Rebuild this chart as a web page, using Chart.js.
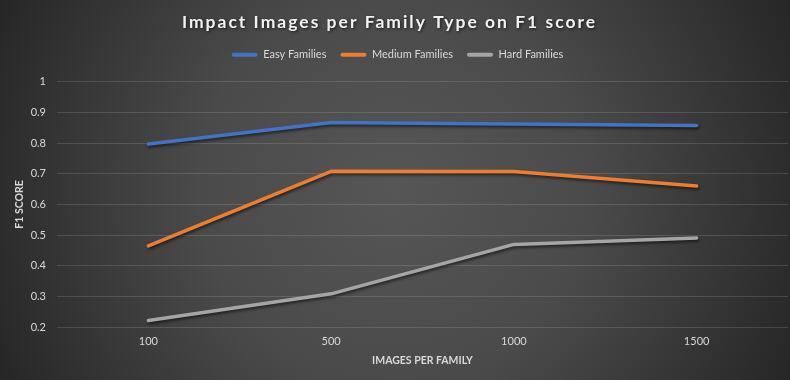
<!DOCTYPE html>
<html>
<head>
<meta charset="utf-8">
<script src="https://cdn.jsdelivr.net/npm/chart.js@4"></script>
<style>
  html, body { margin: 0; padding: 0; background: #3a3a3a; }
  #wrap { width: 790px; height: 380px; position: relative; }
</style>
</head>
<body>
<div id="wrap"><canvas id="c" width="790" height="380"></canvas></div>
<script>
// ---- data ----
const categories = ['100', '500', '1000', '1500'];
const seriesNames = ['Easy Families', 'Medium Families', 'Hard Families'];
const easyFamilies = [0.797, 0.867, 0.862, 0.857];
const mediumFamilies = [0.465, 0.708, 0.707, 0.660];
const hardFamilies = [0.222, 0.309, 0.470, 0.491];
const yTicks = [0.2, 0.3, 0.4, 0.5, 0.6, 0.7, 0.8, 0.9, 1];
const yTickLabels = ['0.2', '0.3', '0.4', '0.5', '0.6', '0.7', '0.8', '0.9', '1'];
const chartTitle = 'Impact Images per Family Type on F1 score';
const xTitle = 'IMAGES PER FAMILY';
const yTitle = 'F1 SCORE';

const colors = ['#4472C4', '#ED7D31', '#A5A5A5'];
const seriesValues = [easyFamilies, mediumFamilies, hardFamilies];

const bgPlugin = {
  id: 'bg',
  afterInit(chart) {
    const tb = chart.titleBlock;
    if (tb && !tb._wrapped) {
      const orig = tb.draw.bind(tb);
      tb.draw = function () {
        const c = chart.ctx;
        c.save();
        try { c.letterSpacing = '2px'; } catch (e) {}
        c.translate(-8, 0);
        c.shadowColor = 'rgba(0,0,0,0.65)';
        c.shadowBlur = 3;
        c.shadowOffsetX = 1;
        c.shadowOffsetY = 1.5;
        orig();
        c.restore();
      };
      tb._wrapped = true;
    }
  },
  beforeDraw(chart) {
    const { ctx, width, height } = chart;
    ctx.save();
    const cx = width / 2, cy = height / 2;
    const g = ctx.createRadialGradient(cx, cy, 0, cx, cy, Math.hypot(cx, cy));
    g.addColorStop(0, '#565656');
    g.addColorStop(0.45, '#4a4a4a');
    g.addColorStop(1, '#262626');
    ctx.fillStyle = g;
    ctx.fillRect(0, 0, width, height);
    ctx.restore();
  },
  beforeDatasetsDraw(chart) {
    const c = chart.ctx;
    c.save();
    c.shadowColor = 'rgba(0,0,0,0.55)';
    c.shadowBlur = 3;
    c.shadowOffsetX = 1;
    c.shadowOffsetY = 2;
  },
  afterDatasetsDraw(chart) {
    chart.ctx.restore();
  }
};

new Chart(document.getElementById('c'), {
  type: 'line',
  data: {
    labels: categories,
    datasets: seriesNames.map((name, i) => ({
      label: name,
      data: seriesValues[i],
      borderColor: colors[i],
      backgroundColor: colors[i],
      borderWidth: 3.5,
      pointRadius: 0,
      pointHoverRadius: 0,
      tension: 0,
      fill: false,
      borderCapStyle: 'round',
      borderJoinStyle: 'round'
    }))
  },
  options: {
    responsive: false,
    animation: false,
    events: [],
    layout: { padding: { left: 7, right: 2, top: 0, bottom: 0 } },
    font: { family: 'Lato' },
    plugins: {
      tooltip: { enabled: false },
      title: {
        display: true,
        text: chartTitle,
        color: '#f2f2f2',
        font: { family: 'Lato', size: 17.5, weight: 'bold', lineHeight: 1.2 },
        padding: { top: 11.7, bottom: 2.6 }
      },
      legend: {
        display: true,
        position: 'top',
        weight: 1800,
        labels: {
          color: '#d9d9d9',
          font: { family: 'Lato', size: 11 },
          boxWidth: 26,
          boxHeight: 4,
          padding: 14,
          generateLabels(chart) {
            const items = Chart.defaults.plugins.legend.labels.generateLabels(chart);
            items.forEach(it => { it.lineWidth = 0; it.strokeStyle = 'rgba(0,0,0,0)'; it.borderRadius = 2; });
            return items;
          }
        }
      },
      subtitle: {
        display: true,
        text: '',
        padding: 0,
        font: { size: 10, lineHeight: 1.13 }
      }
    },
    scales: {
      x: {
        offset: true,
        afterFit(s) { s.height = 52.7; },
        grid: { display: false, drawTicks: false, offset: true },
        border: { display: false },
        ticks: { color: '#d9d9d9', font: { family: 'Lato', size: 11 }, padding: 8, maxRotation: 0 },
        title: {
          display: true, text: xTitle, color: '#d9d9d9',
          font: { family: 'Lato', size: 10.5, weight: 'bold' },
          padding: { top: 0, bottom: 12.7 }
        }
      },
      y: {
        min: 0.2,
        max: 1,
        afterFit(s) { s.width = 50; },
        afterBuildTicks(s) { s.ticks = yTicks.map(v => ({ value: v })); },
        grid: { color: 'rgba(255,255,255,0.13)', lineWidth: 1, drawTicks: false },
        border: { display: false },
        ticks: {
          color: '#d9d9d9', font: { family: 'Lato', size: 11 }, padding: 11,
          callback(value, index) { return yTickLabels[index]; }
        },
        title: {
          display: true, text: yTitle, color: '#d9d9d9',
          font: { family: 'Lato', size: 10.5, weight: 'bold' },
          padding: { top: 6.7, bottom: 0 }
        }
      }
    }
  },
  plugins: [bgPlugin]
});
</script>
</body>
</html>
